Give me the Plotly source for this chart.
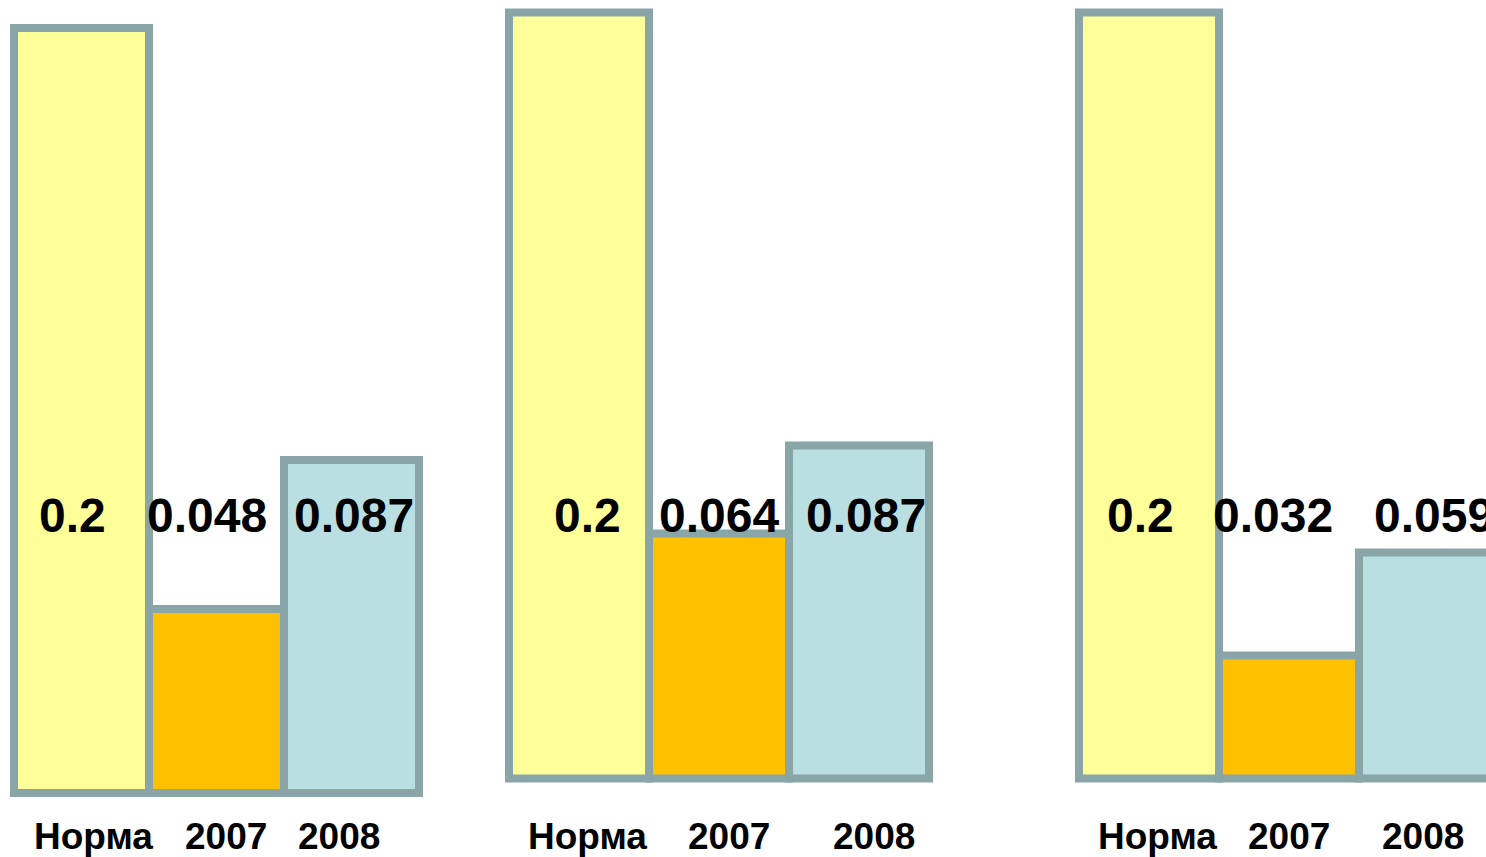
import plotly.graph_objects as go

# ---------------- data ----------------
categories = ["Норма", "2007", "2008"]
group1_values = [0.2, 0.048, 0.087]
group2_values = [0.2, 0.064, 0.087]
group3_values = [0.2, 0.032, 0.059]
group1_labels = ["0.2", "0.048", "0.087"]
group2_labels = ["0.2", "0.064", "0.087"]
group3_labels = ["0.2", "0.032", "0.059"]

# ---------------- style ----------------
bar_colors = ["#FFFF99", "#FFC000", "#B9DFE3"]
border_color = "#8AA5A8"
FONT = "Liberation Sans, Arial, sans-serif"
W, H = 1486, 857
PAD = 10

# pixel frames of each group (outline centre lines) and small label nudges
frames = [
    dict(values=group1_values, labels=group1_labels, left=14, right=419, top=28, base=793,
         val_shift=[-9, -10, 2], cat_shift=[12, 9, -13]),
    dict(values=group2_values, labels=group2_labels, left=509, right=929, top=12.5, base=778,
         val_shift=[8, 0, 7], cat_shift=[8, 10, 15]),
    dict(values=group3_values, labels=group3_labels, left=1079, right=1499, top=12.5, base=778,
         val_shift=[-9, -16, 5], cat_shift=[8, 0, -6]),
]

fig = go.Figure()
layout_axes = {}
annotations = []

for i, g in enumerate(frames, start=1):
    xa = "x" if i == 1 else f"x{i}"
    ya = "y" if i == 1 else f"y{i}"
    w = (g["right"] - g["left"]) / 3.0
    dom_l = g["left"] - PAD
    dom_r = min(g["right"] + PAD, W)
    xr = [-0.5 - PAD / w, -0.5 + (dom_r - g["left"]) / w]
    vmax = max(g["values"])
    k = (g["base"] - g["top"]) / vmax
    dom_t = g["top"] - PAD
    dom_b = g["base"] + PAD
    yr = [-PAD / k, vmax + PAD / k]

    fig.add_trace(go.Bar(
        x=categories, y=g["values"],
        marker=dict(color=bar_colors, line=dict(color=border_color, width=8)),
        xaxis=xa, yaxis=ya, showlegend=False, hoverinfo="skip",
    ))

    axkey = "xaxis" if i == 1 else f"xaxis{i}"
    aykey = "yaxis" if i == 1 else f"yaxis{i}"
    layout_axes[axkey] = dict(domain=[dom_l / W, dom_r / W], range=xr, visible=False,
                              anchor=ya, type="category", fixedrange=True)
    layout_axes[aykey] = dict(domain=[1 - dom_b / H, 1 - dom_t / H], range=yr, visible=False,
                              anchor=xa, fixedrange=True)

    for j, (cat, lab) in enumerate(zip(categories, g["labels"])):
        annotations.append(dict(
            x=j, xref=xa, y=1 - 515 / H, yref="paper",
            text=lab, showarrow=False, xanchor="center", yanchor="middle",
            xshift=g["val_shift"][j],
            font=dict(family=FONT, size=48, color="black", weight="bold"),
        ))
        annotations.append(dict(
            x=j, xref=xa, y=1 - 836 / H, yref="paper",
            text=cat, showarrow=False, xanchor="center", yanchor="middle",
            xshift=g["cat_shift"][j],
            font=dict(family=FONT, size=37, color="black", weight="bold"),
        ))

fig.update_layout(
    width=W, height=H,
    margin=dict(l=0, r=0, t=0, b=0),
    paper_bgcolor="white", plot_bgcolor="white",
    bargap=0,
    annotations=annotations,
    **layout_axes,
)

fig.write_html("out.html", config={"displayModeBar": False})
